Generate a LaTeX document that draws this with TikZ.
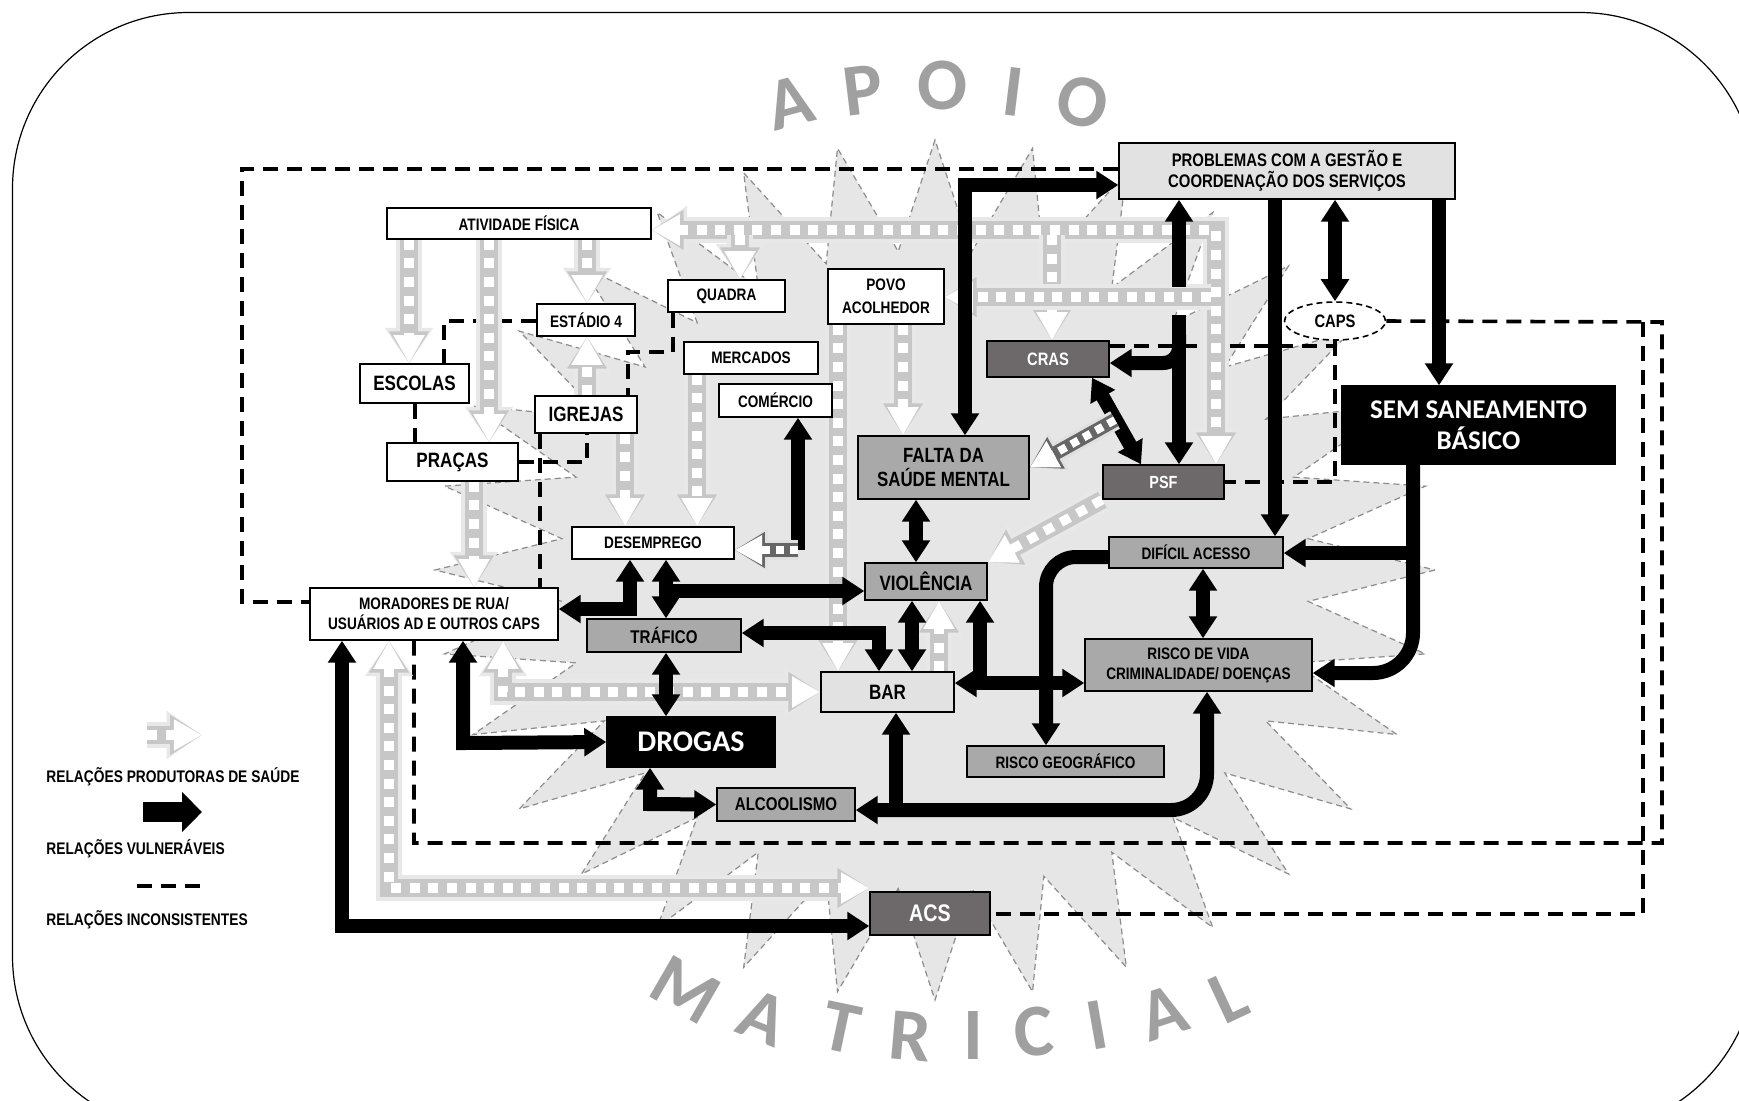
\documentclass[tikz,border=0pt]{standalone}
\usepackage{fontspec}
\setmainfont{Liberation Sans}[FakeStretch=0.82]
\newfontfamily\titulo{Carlito}
\usetikzlibrary{arrows.meta,shapes.geometric,backgrounds}
\newcommand{\tam}[2]{\fontsize{#1}{#2}\selectfont}
\definecolor{fundo}{HTML}{E6E6E6}
\definecolor{clara}{HTML}{E2E2E2}
\definecolor{media}{HTML}{A9A9A9}
\definecolor{escura}{HTML}{6D6869}
\definecolor{letra}{HTML}{A0A0A0}

\tikzset{
  tipV/.tip={Triangle[length=11pt,width=13.5pt]},
  tipS/.tip={Triangle[length=12pt 0.44,width=10pt 1]},
  caixa/.style={draw=black, line width=0.7pt, inner sep=0pt, align=center, font=\bfseries\tam{8.3}{11}},
  branca/.style={caixa, fill=white},
  clara/.style={caixa, fill=clara},
  media/.style={caixa, fill=media},
  escura/.style={caixa, fill=escura, text=white},
  preta/.style={caixa, fill=black, text=white},
  grande/.style={font=\bfseries\tam{10.4}{11.7}},
  letra/.style={text=letra, font=\titulo\bfseries\tam{37}{37}, inner sep=0pt},
  legenda/.style={anchor=west, inner sep=0pt, font=\bfseries\tam{8.4}{10}},
  vuln/.style={draw=black, line width=7pt},
  saude/.style={draw=white, line width=4.7pt, dash pattern=on 5pt off 4.3pt,
    preaction={draw=black!9, line width=13pt, solid},
    preaction={draw=black!22, line width=9pt, solid}},
  mista/.style={draw=white, line width=4pt, dash pattern=on 4pt off 3pt,
    preaction={draw=black!12, line width=10pt, solid},
    preaction={draw=black!60, line width=7pt, solid}},
  incons/.style={draw=black, line width=1.8pt, dash pattern=on 7.5pt off 4.5pt},
  estrela/.style={fill=fundo, draw=black!45, line width=0.6pt, dash pattern=on 3pt off 2pt},
  moldura/.style={draw=black, line width=0.6pt, rounded corners=88pt}
}

\begin{document}
\begin{tikzpicture}[x=0.5pt, y=0.5pt, yscale=-1]
\useasboundingbox (0,0) rectangle (1739,1100);

% caixas
\node[clara, minimum width=168pt, minimum height=28pt, font=\bfseries\tam{9.1}{10.5}] (problemas) at (1287,171) {PROBLEMAS COM A GESTÃO E\\COORDENAÇÃO DOS SERVIÇOS};
\node[branca, minimum width=132pt, minimum height=15.5pt] (atividade) at (519,223.5) {ATIVIDADE FÍSICA};
\node[branca, minimum width=58.5pt, minimum height=16pt] (quadra) at (726.5,296) {QUADRA};
\node[branca, minimum width=49pt, minimum height=16pt] (estadio) at (586,320) {ESTÁDIO 4};
\node[branca, minimum width=67pt, minimum height=16pt] (mercados) at (751,358) {MERCADOS};
\node[branca, minimum width=58pt, minimum height=27.5pt, font=\bfseries\tam{8.3}{11.5}] (povo) at (886,296.5) {POVO\\ACOLHEDOR};
\node[escura, minimum width=61pt, minimum height=18pt, font=\bfseries\tam{9}{10}] (cras) at (1048,359) {CRAS};
\node[ellipse, draw=black, fill=white, line width=0.8pt, dash pattern=on 3pt off 2pt, inner sep=0pt,
  minimum width=50.5pt, minimum height=19pt, font=\bfseries\tam{9}{10}] (caps) at (1335,321) {CAPS};
\node[preta, minimum width=136.5pt, minimum height=39pt, font=\titulo\bfseries\tam{13.5}{15.5}] (sem) at (1478.5,425) {SEM SANEAMENTO\\BÁSICO};
\node[branca, grande, minimum width=54.5pt, minimum height=19.5pt] (escolas) at (414.5,383.5) {ESCOLAS};
\node[branca, grande, minimum width=51pt, minimum height=18.5pt] (igrejas) at (586,414.5) {IGREJAS};
\node[branca, minimum width=56.5pt, minimum height=16.5pt] (comercio) at (775.5,400.5) {COMÉRCIO};
\node[branca, grande, minimum width=65.5pt, minimum height=19pt] (pracas) at (452.5,462) {PRAÇAS};
\node[media, minimum width=85.5pt, minimum height=31.5pt, font=\bfseries\tam{10.3}{11.7}] (falta) at (943.5,467.5) {FALTA DA\\SAÚDE MENTAL};
\node[escura, minimum width=60.5pt, minimum height=17pt, font=\bfseries\tam{8.8}{10}] (psf) at (1163.5,482) {PSF};
\node[branca, minimum width=81pt, minimum height=16pt] (desemprego) at (653,543) {DESEMPREGO};
\node[media, minimum width=87pt, minimum height=15.5pt] (dificil) at (1196,552.5) {DIFÍCIL ACESSO};
\node[media, grande, minimum width=61pt, minimum height=18.5pt] (violencia) at (926,581.5) {VIOLÊNCIA};
\node[branca, minimum width=124pt, minimum height=26pt, font=\bfseries\tam{8.3}{10}] (moradores) at (434,614) {MORADORES DE RUA/\\USUÁRIOS AD E OUTROS CAPS};
\node[media, minimum width=77pt, minimum height=16.5pt, font=\bfseries\tam{9.2}{10}] (trafico) at (664,635.5) {TRÁFICO};
\node[media, minimum width=113.5pt, minimum height=26pt, font=\bfseries\tam{8.3}{10}] (risco) at (1198.5,665) {RISCO DE VIDA\\CRIMINALIDADE/ DOENÇAS};
\node[clara, grande, minimum width=66.5pt, minimum height=20pt] (bar) at (887.5,692) {BAR};
\node[preta, minimum width=84pt, minimum height=25pt, font=\titulo\bfseries\tam{15}{16}] (drogas) at (691,742) {DROGAS};
\node[media, minimum width=98.5pt, minimum height=15.5pt] (riscogeo) at (1065.5,761.5) {RISCO GEOGRÁFICO};
\node[media, minimum width=69pt, minimum height=16.5pt, font=\bfseries\tam{9.2}{10}] (alcool) at (786,804.5) {ALCOOLISMO};
\node[escura, minimum width=60pt, minimum height=21.5pt, font=\bfseries\tam{12}{13}] (acs) at (930,913.5) {ACS};

% legenda
\node[legenda] (legsaude) at (46,777) {RELAÇÕES PRODUTORAS DE SAÚDE};
\node[legenda] (legvuln) at (46,849) {RELAÇÕES VULNERÁVEIS};
\node[legenda] (legincons) at (46,920) {RELAÇÕES INCONSISTENTES};
\coordinate (ls1) at (147,735);
\coordinate (ls2) at (202,735);
\coordinate (lv1) at (143,812);
\coordinate (lv2) at (202,812);
\coordinate (li1) at (137,886);
\coordinate (li2) at (200,886);

\begin{pgfonlayer}{background}
\fill[white] (0,0) rectangle (1739,1100);
\draw[moldura] (12.5,12.5) rectangle (1756,1132);

% estrela
\draw[estrela] (1435,570) \foreach \k in {0,...,31}{
  -- ({935+375*cos((\k+0.5)*11.25)},{570+320*sin((\k+0.5)*11.25)})
  -- ({935+500*cos((\k+1)*11.25)},{570+430*sin((\k+1)*11.25)}) } -- cycle;

% apoio matricial
\foreach \l/\x/\y/\a [count=\i] in {A/790/103/15, P/863/90/7, O/943/85/0, I/1013/92/-7, O/1083/102/-14}{
  \node[letra, rotate=\a] (apoio\i) at (\x,\y) {\l};
}
\foreach \l/\x/\y/\a [count=\i] in {M/685/990/-30, A/763/1018/-22, T/841/1028/-12, R/910/1036/-5, I/973/1035/0,
    C/1034/1032/5, I/1097/1025/10, A/1163/1013/18, L/1229/997/25}{
  \node[letra, rotate=\a] (matricial\i) at (\x,\y) {\l};
}

% relacoes inconsistentes
\draw[incons] (problemas.west |- 0,169) -- (242,169) -- (242,602) -- (moradores.west |- 0,602);
\draw[incons] (estadio.west |- 0,321) -- (444,321) -- (444,0 |- escolas.north);
\draw[incons] (415,0 |- escolas.south) -- (415,0 |- pracas.north);
\draw[incons] (pracas.east |- 0,462) -- (587,462) -- (587,0 |- igrejas.south);
\draw[incons] (540,0 |- igrejas.south) -- (540,0 |- moradores.north);
\draw[incons] (673,0 |- quadra.south) -- (673,352) -- (628,352) -- (628,0 |- igrejas.north);
\draw[incons] (cras.east |- 0,346) -- (caps.south |- 0,346);
\draw[incons] (caps.south) -- (caps.south |- psf.east) -- (psf.east);
\draw[incons] (caps.east) -- (1662,322) -- (1662,843) -- (414,843) -- (414,0 |- moradores.south);
\draw[incons] (1643,322) -- (1643,914) -- (acs.east |- 0,914);
\draw[incons] (li1) -- (li2);

% relacoes produtoras de saude
\draw[saude,tipS-tipS] (atividade.east |- 0,230) -- (1216,230) -- (1216,0 |- psf.north);
\draw[saude,-tipS] (740,235) -- (740,0 |- quadra.north);
\draw[saude,-tipS] (1052,235) -- (1052,0 |- cras.north);
\draw[saude,-tipS] (1211,297) -- (povo.east |- 0,297);
\draw[saude,-tipS] (409,0 |- atividade.south) -- (409,0 |- escolas.north);
\draw[saude,-tipS] (489,0 |- atividade.south) -- (489,0 |- pracas.north);
\draw[saude,-tipS] (587,0 |- atividade.south) -- (587,0 |- estadio.north);
\draw[saude,-tipS] (587,0 |- igrejas.north) -- (587,0 |- estadio.south);
\draw[saude,-tipS] (625,0 |- igrejas.south) -- (625,0 |- desemprego.north);
\draw[saude,-tipS] (697,0 |- mercados.south) -- (697,0 |- desemprego.north);
\draw[saude,-tipS] (474,0 |- pracas.south) -- (474,0 |- moradores.north);
\draw[saude,-tipS] (903,0 |- povo.south) -- (903,0 |- falta.north);
\draw[saude,-tipS] (838,0 |- povo.south) -- (838,0 |- bar.north);
\draw[saude,tipS-tipS] (503,0 |- moradores.south) -- (503,692) -- (bar.west);
\draw[saude,-tipS] (939,0 |- bar.north) -- (939,0 |- violencia.south);
\draw[saude,tipS-tipS] (389,0 |- moradores.south) -- (389,888) -- (acs.north west |- 0,888);
\draw[saude,-tipS] (psf.south west) -- (violencia.north east);
\draw[saude,-tipS] (ls1) -- (ls2);

% relacoes vulneraveis
\draw[vuln,tipV-tipV] (965,0 |- falta.north) -- (965,185) -- (problemas.west |- 0,185);
\draw[vuln,-tipV] (1179,287) -- (1179,0 |- problemas.south);
\draw[vuln,-tipV] (1179,315) -- (1179,0 |- psf.north);
\draw[vuln,-tipV,rounded corners=8pt] (1179,335) -- (1179,363) -- (cras.east |- 0,363);
\draw[vuln,tipV-tipV] (1092,0 |- cras.south) -- (1141,0 |- psf.north);
\draw[vuln,-tipV] (1275,0 |- problemas.south) -- (1275,0 |- dificil.north);
\draw[vuln,tipV-tipV] (caps.north |- problemas.south) -- (caps.north);
\draw[vuln,-tipV] (1439,0 |- problemas.south) -- (1439,0 |- sem.north);
\draw[vuln,-tipV,rounded corners=20pt] (1413,0 |- sem.south) -- (1413,673) -- (risco.east |- 0,673);
\draw[vuln,-tipV] (1413,553) -- (dificil.east |- 0,553);
\draw[vuln,tipV-tipV] (1203,0 |- dificil.south) -- (1203,0 |- risco.north);
\draw[vuln,-tipV,rounded corners=15pt] (dificil.west |- 0,557) -- (1046,557) -- (1046,0 |- riscogeo.north);
\draw[vuln,tipV-tipV] (bar.east |- 0,683) -- (risco.west |- 0,683);
\draw[vuln,-tipV] (980,683) -- (980,0 |- violencia.south);
\draw[vuln,tipV-tipV,rounded corners=18pt] (1207,0 |- risco.south) -- (1207,810) -- (alcool.east |- 0,810);
\draw[vuln,-tipV] (896,810) -- (896,0 |- bar.south);
\draw[vuln,tipV-tipV] (916,0 |- falta.south) -- (916,0 |- violencia.north);
\draw[vuln,tipV-tipV] (912,0 |- violencia.south) -- (912,0 |- bar.north);
\draw[vuln,tipV-tipV] (trafico.east |- 0,633) -- (879,633) -- (879,0 |- bar.north);
\draw[vuln,tipV-tipV] (666,0 |- desemprego.south) -- (666,0 |- trafico.north);
\draw[vuln,-tipV] (666,591) -- (violencia.west |- 0,591);
\draw[vuln,tipV-tipV] (630,0 |- desemprego.south) -- (630,609) -- (moradores.east |- 0,609);
\draw[vuln,tipV-tipV] (666,0 |- trafico.south) -- (666,0 |- drogas.north);
\draw[vuln,tipV-tipV] (463,0 |- moradores.south) -- (463,743) -- (drogas.west);
\draw[vuln,tipV-tipV] (650,0 |- drogas.south) -- (650,804) -- (alcool.west);
\draw[vuln,tipV-tipV] (342,0 |- moradores.south) -- (342,926) -- (acs.west |- 0,926);
\draw[vuln,-tipV] (798,550) -- (798,0 |- comercio.south);
\draw[vuln,line width=10pt,-{Triangle[length=10pt,width=19.5pt]}] (lv1) -- (lv2);

% transicoes
\draw[mista,-tipS] (1115,420) -- (falta.east);
\draw[mista,-tipS] (798,550) -- (desemprego.east |- 0,550);
\end{pgfonlayer}
\end{tikzpicture}
\end{document}
